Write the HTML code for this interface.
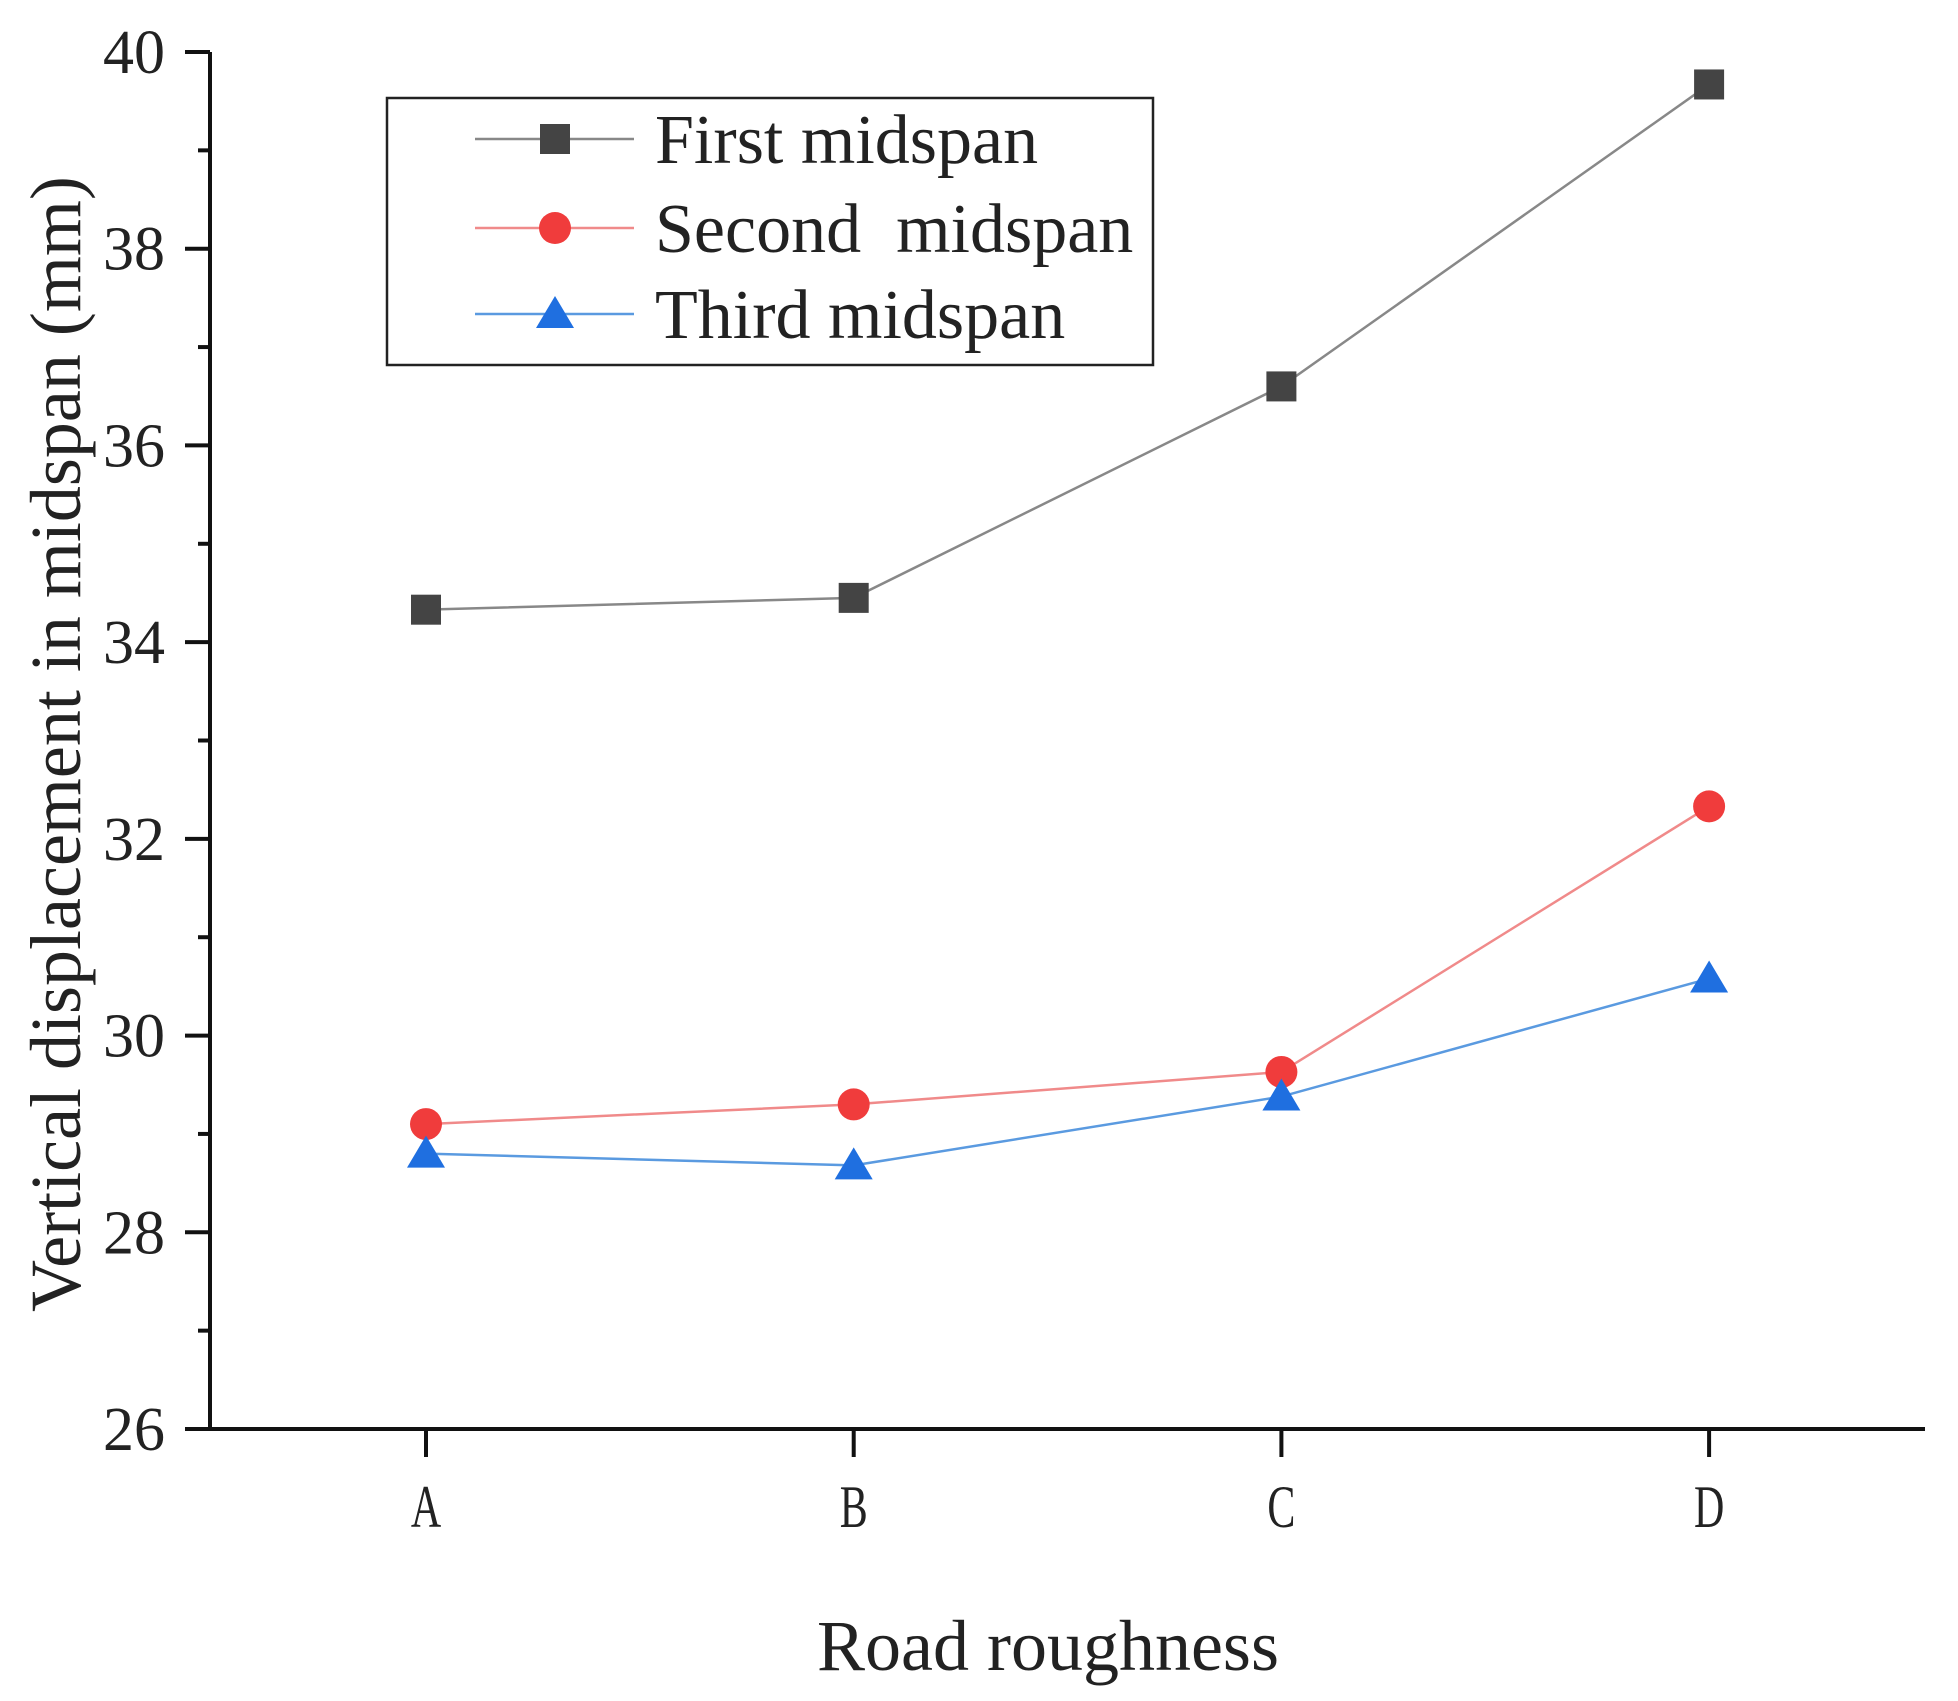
<!DOCTYPE html>
<html><head><meta charset="utf-8"><style>
body{margin:0;background:#fff}
svg{display:block}
text{font-family:"Liberation Serif",serif;fill:#222}
</style></head><body>
<svg id="chart" width="1958" height="1701" viewBox="0 0 1958 1701" xmlns="http://www.w3.org/2000/svg">
<g id="axes"></g><g id="series"></g>
<g>
<rect x="387" y="98" width="766" height="267" fill="#fff" stroke="#222" stroke-width="2.5"/>
<g><line x1="475" y1="139" x2="634" y2="139" stroke="#888" stroke-width="2.5"/><rect x="540" y="124" width="30" height="30" fill="#444"/><text x="655" y="163" font-size="70">First midspan</text></g>
<g><line x1="475" y1="228" x2="634" y2="228" stroke="#f08a8a" stroke-width="2.5"/><circle cx="555" cy="228" r="16" fill="#f03c3c"/><text x="655" y="252" font-size="70" xml:space="preserve">Second  midspan</text></g>
<g><line x1="475" y1="314" x2="634" y2="314" stroke="#5a9ae0" stroke-width="2.5"/><path d="M555,296 L574,328 L536,328 Z" fill="#1f6fe0"/><text x="655" y="338" font-size="70">Third midspan</text></g>
</g>
<text transform="translate(80,744) rotate(-90)" text-anchor="middle" font-size="72">Vertical displacement in midspan (mm)</text>
<text x="1048" y="1670" text-anchor="middle" font-size="72">Road roughness</text>
</svg>
<script>
const categories=["A","B","C","D"];
const firstVals=[34.33,34.45,36.6,39.67];
const secondVals=[29.1,29.3,29.63,32.33];
const thirdVals=[28.8,28.68,29.38,30.58];
const yTicks=[26,28,30,32,34,36,38,40];
const NS="http://www.w3.org/2000/svg";
const X0=210,X1=1925,Y0=1429,YT=52;
function xs(i){return 426+i*427.7;}
function ys(v){return Y0-(v-26)*(Y0-YT)/14;}
function mk(tag,attrs,parent){const e=document.createElementNS(NS,tag);for(const k in attrs)e.setAttribute(k,attrs[k]);parent.appendChild(e);return e;}
const ax=document.getElementById('axes');
let l=mk('line',{x1:X0,y1:YT,x2:X0,y2:Y0,stroke:'#111','stroke-width':4},ax);


l=mk('line',{x1:X0-25,y1:Y0,x2:X1,y2:Y0,stroke:'#111','stroke-width':4},ax);


yTicks.forEach(v=>{const y=ys(v);
 let t=mk('line',{x1:X0-25,y1:y,x2:X0,y2:y,stroke:'#111','stroke-width':4},ax);
 
 
 if(v<40){const m=ys(v+1);let mt=mk('line',{x1:X0-12,y1:m,x2:X0,y2:m,stroke:'#111','stroke-width':4},ax);
 
 }
 const tx=mk('text',{x:165,y:y+21,'text-anchor':'end','font-size':62},ax);tx.textContent=v;
 
 
});
categories.forEach((c,i)=>{const x=xs(i);
 let t=mk('line',{x1:x,y1:Y0,x2:x,y2:Y0+28,stroke:'#111','stroke-width':4},ax);
 
 
 const tx=mk('text',{x:0,y:0,'text-anchor':'middle','font-size':60,transform:`translate(${x},1527) scale(0.7,1)`},ax);tx.textContent=c;
 
 
});
const sg=document.getElementById('series');
function series(vals,lineColor,markColor,shape,name){
 const g=mk('g',{},sg);
 
 
 const pts=vals.map((v,i)=>xs(i)+','+ys(v)).join(' ');
 mk('polyline',{points:pts,fill:'none',stroke:lineColor,'stroke-width':2.5},g);
 vals.forEach((v,i)=>{const x=xs(i),y=ys(v);let m;
  if(shape==='sq')m=mk('rect',{x:x-15,y:y-15,width:30,height:30,fill:markColor},g);
  else if(shape==='ci')m=mk('circle',{cx:x,cy:y,r:16,fill:markColor},g);
  else m=mk('path',{d:`M${x},${y-18} L${x+19},${y+14} L${x-19},${y+14} Z`,fill:markColor},g);
  
  
 });
}
series(firstVals,'#888','#444','sq','series-first-midspan');
series(secondVals,'#f08a8a','#f03c3c','ci','series-second-midspan');
series(thirdVals,'#5a9ae0','#1f6fe0','tr','series-third-midspan');
</script>
</body></html>
